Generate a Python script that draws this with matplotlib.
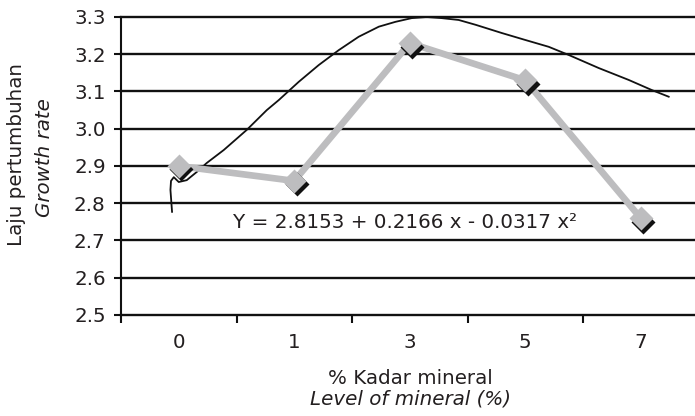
import matplotlib
matplotlib.use("Agg")
import matplotlib.pyplot as plt
from matplotlib.transforms import offset_copy

# Data
categories = ["0", "1", "3", "5", "7"]
growth = [2.90, 2.86, 3.23, 3.13, 2.76]

# Trend curve as drawn in the reference (x in category-position units)
curve_x = [-0.058, -0.072, -0.067, -0.043, 0.000, 0.069, 0.156, 0.242, 0.390,
           0.589, 0.762, 0.866, 1.039, 1.212, 1.385, 1.558, 1.732, 1.876,
           2.017, 2.147, 2.277, 2.424, 2.571, 2.797, 3.004, 3.203, 3.377,
           3.636, 3.896, 4.095, 4.242]
curve_y = [2.777, 2.836, 2.860, 2.870, 2.857, 2.862, 2.884, 2.908, 2.943,
           2.997, 3.050, 3.077, 3.126, 3.171, 3.211, 3.247, 3.274, 3.287,
           3.297, 3.300, 3.297, 3.292, 3.279, 3.257, 3.238, 3.220, 3.198,
           3.163, 3.131, 3.104, 3.086]

yticks = [2.5, 2.6, 2.7, 2.8, 2.9, 3.0, 3.1, 3.2, 3.3]
equation = "Y = 2.8153 + 0.2166 x - 0.0317 x²"

plt.rcParams['font.family'] = ['DejaVu Sans']
txt = '#231f20'
FS = 14.3

fig = plt.figure(figsize=(6.95, 4.16), dpi=100)
ax = fig.add_axes([121/695, 101/416, 577.5/695, 298/416])

ax.set_xlim(-0.5, 4.5)
ax.set_ylim(2.5, 3.3)

for v in yticks:
    ax.axhline(v, color='#111111', lw=1.7, zorder=1, clip_on=False)

x = list(range(len(categories)))

# trend curve
ax.plot(curve_x, curve_y, color='#111111', lw=1.3, zorder=2, clip_on=False,
        solid_joinstyle='round')

# gray line with shadowed diamond markers
ax.plot(x, growth, color='#bdbdbf', lw=4.8, zorder=3, solid_joinstyle='miter')
shadow = offset_copy(ax.transData, fig=fig, x=2.5, y=-3.5, units='dots')
ax.plot(x, growth, linestyle='none', marker='D', ms=12.5, color='#111111',
        mec='none', transform=shadow, zorder=4)
ax.plot(x, growth, linestyle='none', marker='D', ms=12.5, color='#bdbdbf',
        mec='none', zorder=5)

ax.text(1.957, 2.7336, equation, ha='center', va='baseline', fontsize=FS,
        color=txt, zorder=6)

# axes styling
for s in ['top', 'right', 'bottom']:
    ax.spines[s].set_visible(False)
ax.spines['left'].set_color('#111111')
ax.spines['left'].set_linewidth(1.5)

ax.set_yticks(yticks)
ax.set_yticklabels([f"{v:.1f}" for v in yticks])
ax.tick_params(axis='y', length=5, width=1.5, color='#111111', labelsize=FS,
               labelcolor=txt, pad=6)

ax.set_xticks(x)
ax.set_xticklabels(categories)
ax.set_xticks([i + 0.5 for i in range(-1, 5)], minor=True)
ax.tick_params(axis='x', which='major', length=0, labelsize=FS,
               labelcolor=txt, pad=13)
ax.tick_params(axis='x', which='minor', length=6, width=1.5, color='#111111')

# axis titles
fig.text(17/695, 1 - 154/416, "Laju pertumbuhan", rotation=90, ha='center',
         va='center', fontsize=FS, color=txt)
fig.text(45/695, 1 - 158/416, "Growth rate", rotation=90, ha='center',
         va='center', fontsize=FS, color=txt, style='italic')
fig.text(410/695, 1 - 378/416, "% Kadar mineral", ha='center', va='center',
         fontsize=FS, color=txt)
fig.text(411/695, 1 - 399/416, "Level of mineral (%)", ha='center',
         va='center', fontsize=FS, color=txt, style='italic')

fig.savefig("out.png", dpi=100)
